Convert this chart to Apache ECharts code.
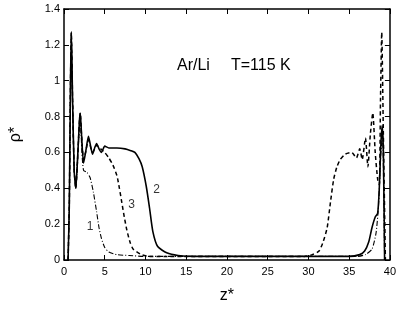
<!DOCTYPE html>
<html>
<head>
<meta charset="utf-8">
<script src="https://cdn.jsdelivr.net/npm/echarts@6/dist/echarts.min.js"></script>
<style>
  html, body { margin: 0; padding: 0; background: #fff; }
  #chart { width: 399px; height: 309px; }
</style>
</head>
<body>
<div id="chart"></div>
<script>
  // tick labels
  var xTicks = [0, 5, 10, 15, 20, 25, 30, 35, 40];
  var yTicks = [0, 0.2, 0.4, 0.6, 0.8, 1, 1.2, 1.4];

  // density profiles, [z*, rho*]
  var curve1 = [
    [0.5,0],[0.65,0.3],[0.8,1.0],[0.9,1.27],[1.05,0.9],[1.25,0.5],[1.45,0.4],[1.65,0.55],
    [1.9,0.75],[2.0,0.78],[2.2,0.6],[2.4,0.5],[2.8,0.49],[3.2,0.46],[3.6,0.38],[4.0,0.27],
    [4.3,0.18],[4.6,0.12],[5.0,0.07],[5.5,0.045],[6.5,0.03],[8,0.025],[10,0.02],
    [36,0.02],[37,0.03],[37.8,0.06],[38.3,0.15],[38.6,0.3],[38.9,0.6],[39.1,0.7],[39.35,0]
  ];
  var curve2 = [
    [0.5,0],[0.65,0.3],[0.8,1.0],[0.9,1.27],[1.05,0.9],[1.25,0.5],[1.45,0.4],[1.65,0.55],
    [1.9,0.78],[2.0,0.82],[2.15,0.7],[2.4,0.54],[2.65,0.6],[3.0,0.69],[3.2,0.65],[3.5,0.59],
    [3.8,0.63],[4.0,0.65],[4.3,0.62],[4.6,0.6],[5.0,0.635],[5.5,0.625],[6.5,0.625],[7.5,0.62],
    [8.2,0.61],[8.7,0.6],[9.2,0.565],[9.6,0.52],[10.1,0.41],[10.5,0.29],[10.9,0.16],[11.5,0.075],
    [12.6,0.04],[14,0.025],[16,0.02],[35,0.02],[36.3,0.03],[36.9,0.05],[37.4,0.1],[37.8,0.18],
    [38.2,0.24],[38.5,0.26],[38.7,0.4],[38.9,0.65],[39.05,0.75],[39.2,0.6],[39.35,0]
  ];
  var curve3 = [
    [0.5,0],[0.65,0.3],[0.8,1.0],[0.9,1.27],[1.05,0.9],[1.25,0.5],[1.45,0.4],[1.65,0.55],
    [1.9,0.78],[2.0,0.82],[2.15,0.7],[2.4,0.56],[2.65,0.6],[3.0,0.67],[3.5,0.6],[4.0,0.64],
    [4.5,0.62],[5.0,0.6],[5.5,0.57],[6.0,0.53],[6.5,0.47],[6.8,0.4],[7.1,0.32],[7.4,0.24],
    [7.7,0.17],[8.1,0.1],[8.5,0.06],[9.5,0.03],[10.5,0.02],
    [29.5,0.02],[30.5,0.03],[31.3,0.05],[31.8,0.1],[32.3,0.18],[32.7,0.32],[33.1,0.45],
    [33.5,0.52],[33.9,0.56],[34.5,0.59],[35.3,0.6],[35.7,0.58],[35.9,0.57],[36.3,0.62],
    [36.6,0.56],[37.0,0.68],[37.3,0.52],[37.6,0.7],[37.9,0.82],[38.2,0.6],[38.5,0.45],
    [38.7,0.42],[38.85,0.9],[39.0,1.27],[39.2,0.7],[39.45,0]
  ];

  // curve numbers placed in data space
  var curveLabels = [
    { name: "1", value: [3.2, 0.185] },
    { name: "2", value: [11.35, 0.39] },
    { name: "3", value: [8.3, 0.31] }
  ];

  var font = "Liberation Sans, Arial, Helvetica, sans-serif";
  var myChart = echarts.init(document.getElementById("chart"));

  var tickStyle = { show: true, inside: true, length: 5, lineStyle: { color: "#000", width: 1 } };
  var lineAxis = { show: true, onZero: false, lineStyle: { color: "#000", width: 1.5 } };
  var titleText = { fontFamily: font, fontSize: 16, fontWeight: "normal", color: "#000" };

  var option = {
    animation: false,
    backgroundColor: "#fff",
    title: [
      { text: "Ar/Li", left: 172, top: 53, textStyle: titleText },
      { text: "T=115 K", left: 226, top: 53, textStyle: titleText }
    ],
    grid: { left: 62, right: 9, top: 9, bottom: 43, containLabel: false },
    xAxis: [{
      type: "value", min: 0, max: 40, interval: 5,
      name: "z*", nameLocation: "middle", nameGap: 28,
      nameTextStyle: { fontFamily: font, fontSize: 16, color: "#000" },
      axisLine: lineAxis, axisTick: tickStyle, splitLine: { show: false },
      axisLabel: { fontFamily: font, fontSize: 11, color: "#000", margin: 6 }
    }, {
      type: "value", min: 0, max: 40, interval: 5, position: "top",
      axisLine: lineAxis, axisTick: tickStyle, splitLine: { show: false },
      axisLabel: { show: false }
    }],
    yAxis: [{
      type: "value", min: 0, max: 1.4, interval: 0.2,
      name: "ρ*", nameLocation: "middle", nameGap: 40, nameRotate: 90,
      nameTextStyle: { fontFamily: font, fontSize: 16, color: "#000" },
      axisLine: lineAxis, axisTick: tickStyle, splitLine: { show: false },
      axisLabel: {
        fontFamily: font, fontSize: 11, color: "#000", margin: 4,
        formatter: function (v) { return String(Math.round(v * 10) / 10); }
      }
    }, {
      type: "value", min: 0, max: 1.4, interval: 0.2, position: "right",
      axisLine: lineAxis, axisTick: tickStyle, splitLine: { show: false },
      axisLabel: { show: false }
    }],
    series: [
      {
        name: "1", type: "line", data: curve1, symbol: "none", smooth: 0.2,
        lineStyle: { color: "#000", width: 1.1, type: [5, 2, 1, 2] }
      },
      {
        name: "3", type: "line", data: curve3, symbol: "none", smooth: 0.2,
        lineStyle: { color: "#000", width: 1.5, type: [4, 3] }
      },
      {
        name: "2", type: "line", data: curve2, symbol: "none", smooth: 0.2,
        lineStyle: { color: "#000", width: 1.6 }
      },
      {
        type: "scatter", data: curveLabels, symbolSize: 0, silent: true,
        label: {
          show: true, position: "inside", formatter: "{b}",
          fontFamily: font, fontSize: 12, color: "#000"
        }
      }
    ]
  };
  myChart.setOption(option);
</script>
</body>
</html>
